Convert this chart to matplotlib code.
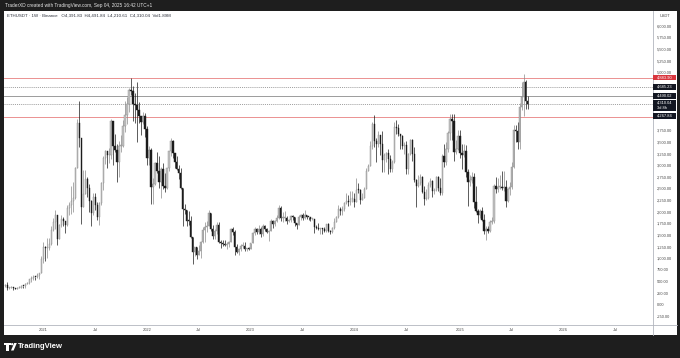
"""
ETHUSDT weekly candles, TradingView-style snapshot (light theme, B&W candles).
Saves out.png at 680x358.
"""

import numpy as np
import pandas as pd
import matplotlib
matplotlib.use("Agg")
import matplotlib.pyplot as plt
import matplotlib.dates as mdates
import matplotlib.ticker as mticker
from matplotlib.patches import Rectangle, Polygon, Circle
from matplotlib.transforms import blended_transform_factory

plt.rcParams["font.family"] = ["Liberation Sans", "DejaVu Sans"]

# ── Data (weekly bars, Binance ETHUSDT) ───────────────────────────────────────

first_week = "2020-08-24"
first_open = 395.0

closes = [
    # 2020
    428, 353, 365, 384, 355, 346, 366, 368, 410, 396, 455, 460, 550, 575,
    596, 590, 640, 685, 975,
    # 2021
    1235, 1230, 1230, 1310, 1610, 1780, 1935, 1420, 1725, 1850, 1795, 1710,
    2090, 2140, 2240, 2300, 2950, 3900, 3580, 2100, 2390, 2710, 2510, 2240,
    1970, 2320, 2140, 1890, 2190, 2620, 3150, 3300, 3225, 3225, 3950, 3410,
    3330, 3060, 3415, 3415, 3850, 4080, 4320, 4610, 4590, 4310, 4290, 4190,
    4050, 3920, 4050, 3770,
    # 2022
    3150, 3330, 2540, 2590, 3050, 2880, 2630, 2920, 2550, 2520, 2950, 3300,
    3520, 3260, 3060, 2920, 2830, 2520, 2060, 2040, 1810, 1800, 1450, 1130,
    1240, 1070, 1160, 1340, 1600, 1680, 1700, 1980, 1620, 1490, 1580, 1720,
    1340, 1330, 1310, 1290, 1300, 1360, 1620, 1570, 1250, 1140, 1200, 1260,
    1265, 1190, 1220, 1195,
    # 2023
    1320, 1550, 1630, 1570, 1630, 1520, 1690, 1640, 1560, 1590, 1800, 1740,
    1800, 1860, 2090, 1870, 1870, 1870, 1800, 1820, 1910, 1890, 1750, 1720,
    1890, 1940, 1870, 1930, 1890, 1880, 1850, 1850, 1670, 1650, 1630, 1630,
    1620, 1590, 1730, 1580, 1560, 1660, 1790, 1880, 2050, 2010, 2060, 2190,
    2240, 2200, 2270, 2280,
    # 2024
    2220, 2470, 2460, 2260, 2290, 2500, 2880, 2990, 3420, 3880, 3520, 3450,
    3650, 3450, 3120, 3220, 3260, 3140, 2920, 3070, 3830, 3810, 3680, 3620,
    3420, 3440, 2930, 3250, 3540, 3250, 2690, 2560, 2610, 2740, 2430, 2270,
    2300, 2580, 2660, 2440, 2460, 2750, 2510, 2400, 3190, 3070, 3360, 3700,
    3990, 3960, 3280, 3350,
    # 2025
    3630, 3270, 3210, 3310, 2860, 2630, 2690, 2750, 2220, 2020, 1940, 2010,
    1820, 1580, 1620, 1590, 1790, 1810, 2560, 2500, 2530, 2530, 2510, 2540,
    2230, 2500, 2540, 2970, 3750, 3730, 3490, 4250, 4470, 4780, 4391.83,
    4310.04,
]

highs = [
    # 2020
    440, 488, 390, 395, 390, 365, 375, 395, 420, 413, 470, 480, 560, 620,
    635, 600, 680, 690, 1040,
    # 2021
    1350, 1270, 1440, 1440, 1700, 1870, 2040, 1940, 1740, 1940, 1880, 1800,
    2150, 2200, 2550, 2640, 2960, 4000, 4372, 3580, 2900, 2890, 2740, 2600,
    2250, 2400, 2410, 2200, 2200, 2650, 3190, 3330, 3300, 3375, 4000, 3960,
    3680, 3460, 3520, 3650, 3970, 4380, 4460, 4670, 4870, 4700, 4560, 4780,
    4350, 4060, 4150, 4120,
    # 2022
    3850, 3410, 3380, 2720, 3060, 3280, 3200, 2970, 3040, 2830, 2950, 3300,
    3580, 3550, 3220, 3200, 3000, 2950, 2520, 2160, 2040, 2020, 1900, 1450,
    1250, 1230, 1280, 1370, 1680, 1780, 1800, 2030, 1960, 1720, 1620, 1780,
    1780, 1400, 1400, 1390, 1340, 1370, 1660, 1680, 1600, 1300, 1230, 1300,
    1350, 1350, 1230, 1240,
    # 2023
    1330, 1560, 1680, 1660, 1710, 1680, 1740, 1720, 1650, 1600, 1850, 1830,
    1830, 1930, 2140, 2120, 2000, 2020, 1900, 1840, 1930, 1930, 1890, 1750,
    1930, 1950, 1980, 2030, 1940, 1890, 1880, 1870, 1850, 1720, 1750, 1660,
    1650, 1680, 1740, 1750, 1600, 1680, 1860, 1910, 2140, 2110, 2130, 2200,
    2400, 2350, 2450, 2450,
    # 2024
    2400, 2720, 2610, 2480, 2400, 2540, 2950, 3030, 3520, 3940, 4090, 3590,
    3730, 3640, 3730, 3270, 3290, 3350, 3210, 3120, 3940, 3980, 3880, 3680,
    3650, 3490, 3520, 3260, 3560, 3560, 3400, 2700, 2790, 2820, 2760, 2560,
    2480, 2650, 2730, 2680, 2520, 2770, 2770, 2720, 3240, 3450, 3500, 3740,
    4110, 4110, 4110, 3540,
    # 2025
    3750, 3750, 3450, 3450, 3430, 2920, 2800, 2850, 2830, 2550, 2050, 2070,
    2100, 1950, 1690, 1690, 1830, 1880, 2600, 2740, 2730, 2790, 2880, 2880,
    2680, 2510, 2640, 3080, 3860, 3860, 3940, 4330, 4790, 4955, 4830,
    4491.84,
]

lows = [
    # 2020
    375, 308, 330, 355, 310, 330, 335, 360, 365, 370, 370, 440, 440, 480,
    540, 535, 580, 565, 680,
    # 2021
    900, 950, 1000, 1170, 1280, 1590, 1640, 1290, 1420, 1670, 1700, 1550,
    1700, 1940, 1950, 2000, 2280, 2950, 3400, 1730, 2100, 2380, 2320, 2000,
    1700, 1930, 2030, 1830, 1720, 2150, 2460, 3020, 2950, 3050, 3130, 3000,
    3280, 2650, 2740, 3280, 3400, 3720, 3890, 4150, 4510, 3950, 3900, 3500,
    3900, 3640, 3890, 3600,
    # 2022
    3000, 3000, 2160, 2160, 2580, 2830, 2520, 2300, 2500, 2430, 2500, 2870,
    3200, 3150, 2950, 2900, 2700, 2500, 1700, 1950, 1700, 1720, 1430, 880,
    1060, 990, 1070, 1000, 1330, 1360, 1560, 1690, 1580, 1420, 1420, 1530,
    1320, 1220, 1270, 1270, 1190, 1250, 1340, 1510, 1070, 1120, 1070, 1160,
    1230, 1150, 1160, 1180,
    # 2023
    1190, 1320, 1510, 1530, 1530, 1460, 1490, 1580, 1550, 1370, 1590, 1660,
    1700, 1780, 1850, 1810, 1780, 1800, 1740, 1780, 1780, 1820, 1700, 1620,
    1720, 1820, 1820, 1850, 1850, 1830, 1810, 1830, 1550, 1620, 1610, 1530,
    1530, 1570, 1570, 1560, 1520, 1540, 1640, 1770, 1860, 1930, 1930, 2010,
    2160, 2120, 2150, 2210,
    # 2024
    2100, 2220, 2400, 2160, 2250, 2300, 2500, 2890, 3000, 3360, 3400, 3060,
    3400, 3210, 2850, 2860, 3070, 2810, 2860, 2860, 3040, 3680, 3620, 3340,
    3360, 3240, 2810, 2820, 3220, 3090, 2630, 2110, 2540, 2570, 2400, 2150,
    2260, 2270, 2540, 2310, 2380, 2440, 2450, 2360, 2360, 2960, 3010, 3280,
    3550, 3550, 3100, 3250,
    # 2025
    3320, 3160, 2920, 3180, 2750, 2120, 2550, 2620, 2080, 1990, 1750, 1860,
    1800, 1520, 1385, 1540, 1560, 1740, 1750, 2400, 2420, 2480, 2460, 2440,
    2110, 2200, 2370, 2500, 2950, 3500, 3350, 3360, 4190, 4060, 4200,
    4210.61,
]

# horizontal levels drawn on the chart
red_levels = [4883.90, 4030.0]
dotted_levels = [4685.23, 4310.04]
solid_levels = [4490.02]

# price-scale tags: text, centre price on scale, colour, rows
tag_texts = ["4,883.90", "4,685.23", "4,490.02", "4,310.04\n3d 8h", "4,267.84"]
tag_centres = [4883.90, 4685.23, 4490.02, 4290.0, 4060.0]
tag_colors = ["#d9363e", "#131722", "#131722", "#131722", "#131722"]
tag_rows = [1, 1, 1, 2, 1]

# scale labels that sit under the tags in the screenshot
hidden_scale = [4000, 4250, 4500, 4750]

year_ticks = ["2021-01-04", "2021-07-05", "2022-01-03", "2022-07-04", "2023-01-02",
              "2023-07-03", "2024-01-01", "2024-07-01", "2025-01-06", "2025-07-07",
              "2026-01-05", "2026-07-06"]
year_labels = ["2021", "Jul", "2022", "Jul", "2023", "Jul", "2024", "Jul",
               "2025", "Jul", "2026", "Jul"]

header_top = "TraderXD created with TradingView.com, Sep 04, 2025 16:42 UTC+1"
symbol_info = "ETHUSDT · 1W · Binance"
volume_text = "Vol1.89M"

# ── Layout (pixels) ───────────────────────────────────────────────────────────

W, H = 680, 358
DARK = "#1e1e1e"
UP_FACE, UP_EDGE = "#c4c4c4", "#8a8a8a"
DOWN_FACE = "#1c1c1c"

ax_left, ax_right, ax_top, ax_bottom = 4, 653, 11, 325
px_per_week = 1.994
anchor = mdates.date2num(pd.Timestamp("2021-01-04"))
anchor_px = 43.3
y_ref_px, y_ref_price, px_per_unit = 25.7, 6000.0, 11.63 / 250.0

fig = plt.figure(figsize=(W / 100, H / 100), dpi=100, facecolor=DARK)

# background / frame layer in pixel coordinates
bg = fig.add_axes([0, 0, 1, 1], zorder=0)
bg.set_xlim(0, W)
bg.set_ylim(H, 0)
bg.axis("off")
bg.add_patch(Rectangle((3.5, 11), 673, 324, facecolor="white", edgecolor="none"))
bg.plot([ax_right, ax_right], [11, 335], color="#b2b5be", lw=0.6)
bg.plot([3.5, 676.5], [ax_bottom, ax_bottom], color="#b2b5be", lw=0.6)
bg.text(5, 5.3, header_top, color="#e6e6e6", fontsize=3.4, va="center", ha="left")
bg.text(660, 15.7, "USDT", color="#4a4a4a", fontsize=2.9, va="center", ha="left")

# TradingView logo + wordmark
bg.add_patch(Polygon([(4, 343), (10.5, 343), (10.5, 345), (8.6, 345), (8.6, 350.5),
                      (6.2, 350.5), (6.2, 345), (4, 345)], closed=True,
                     facecolor="white", edgecolor="none"))
bg.add_patch(Circle((12.2, 344.2), 1.15, facecolor="white", edgecolor="none"))
bg.add_patch(Polygon([(14.2, 343), (16.8, 343), (13.6, 350.5), (11.0, 350.5)], closed=True,
                     facecolor="white", edgecolor="none"))
bg.text(18, 346.8, "TradingView", color="white", fontsize=5.5, fontweight="semibold",
        va="center", ha="left")

# main price axes
ax = fig.add_axes([ax_left / W, 1 - ax_bottom / H,
                   (ax_right - ax_left) / W, (ax_bottom - ax_top) / H], zorder=1)
ax.set_facecolor("none")
for s in ax.spines.values():
    s.set_visible(False)

days_per_px = 7 / px_per_week
ax.set_xlim(anchor - (anchor_px - ax_left) * days_per_px,
            anchor + (ax_right - anchor_px) * days_per_px)
ax.set_ylim(y_ref_price - (ax_bottom - y_ref_px) / px_per_unit,
            y_ref_price + (y_ref_px - ax_top) / px_per_unit)

# ── Candles ───────────────────────────────────────────────────────────────────

weeks = pd.date_range(first_week, periods=len(closes), freq="7D")
x = mdates.date2num(weeks)
o = np.array([first_open] + closes[:-1], dtype=float)
c = np.array(closes, dtype=float)
h = np.maximum(np.array(highs, dtype=float), np.maximum(o, c))
l = np.minimum(np.array(lows, dtype=float), np.minimum(o, c))
up = c >= o

min_body = 1 / px_per_unit
body_bottom = np.minimum(o, c)
body_height = np.maximum(np.abs(c - o), min_body)

ax.vlines(x[up], l[up], h[up], color=UP_EDGE, lw=0.5, zorder=2)
ax.vlines(x[~up], l[~up], h[~up], color=DOWN_FACE, lw=0.5, zorder=2)
ax.bar(x[up], body_height[up], bottom=body_bottom[up], width=4.2,
       color=UP_FACE, edgecolor=UP_EDGE, linewidth=0.3, zorder=3)
ax.bar(x[~up], body_height[~up], bottom=body_bottom[~up], width=4.2,
       color=DOWN_FACE, edgecolor=DOWN_FACE, linewidth=0.3, zorder=3)

# ── Levels ────────────────────────────────────────────────────────────────────

for lvl in red_levels:
    ax.axhline(lvl, color="#e88080", lw=0.6, zorder=1)
for lvl in solid_levels:
    ax.axhline(lvl, color="#8c8c8c", lw=0.6, zorder=1)
for lvl in dotted_levels:
    ax.axhline(lvl, color="#7b7b7b", lw=0.5, ls=(0, (1.5, 1.5)), zorder=1)

# ── Axes ticks ────────────────────────────────────────────────────────────────

ax.yaxis.tick_right()
ax.set_yticks(np.arange(-250, 6001, 250))
ax.yaxis.set_major_formatter(mticker.FuncFormatter(
    lambda v, _: "" if round(v) in hidden_scale else f"{v:,.2f}"))
ax.tick_params(axis="y", length=0, pad=2.9, labelsize=2.9, labelcolor="#4a4a4a")

ax.set_xticks(mdates.date2num(pd.to_datetime(year_ticks)))
ax.set_xticklabels(year_labels)
ax.tick_params(axis="x", length=0, pad=2.2, labelsize=2.9, labelcolor="#4a4a4a")

# symbol / OHLC legend
legend = (f"{symbol_info}   O{o[-1]:,.2f}  H{h[-1]:,.2f}  L{l[-1]:,.2f}  "
          f"C{c[-1]:,.2f}  {volume_text}")
bg.text(7, 15.5, legend, color="#2a2e39", fontsize=3.2, va="center", ha="left", zorder=5)

# price-scale tags
tr = blended_transform_factory(ax.transAxes, ax.transData)
tag_w = (676 - ax_right) / (ax_right - ax_left)
row_h = 5.6 / px_per_unit
for txt, cen, col, rows in zip(tag_texts, tag_centres, tag_colors, tag_rows):
    hgt = row_h * rows
    ax.add_patch(Rectangle((1.0, cen - hgt / 2), tag_w, hgt, transform=tr,
                           facecolor=col, edgecolor="none", clip_on=False, zorder=10))
    ax.text(1.0 + 4 / (ax_right - ax_left), cen, txt, transform=tr, color="white",
            fontsize=2.9, va="center", ha="left", linespacing=1.3, clip_on=False, zorder=11)

fig.savefig("out.png", dpi=100, facecolor=DARK)
